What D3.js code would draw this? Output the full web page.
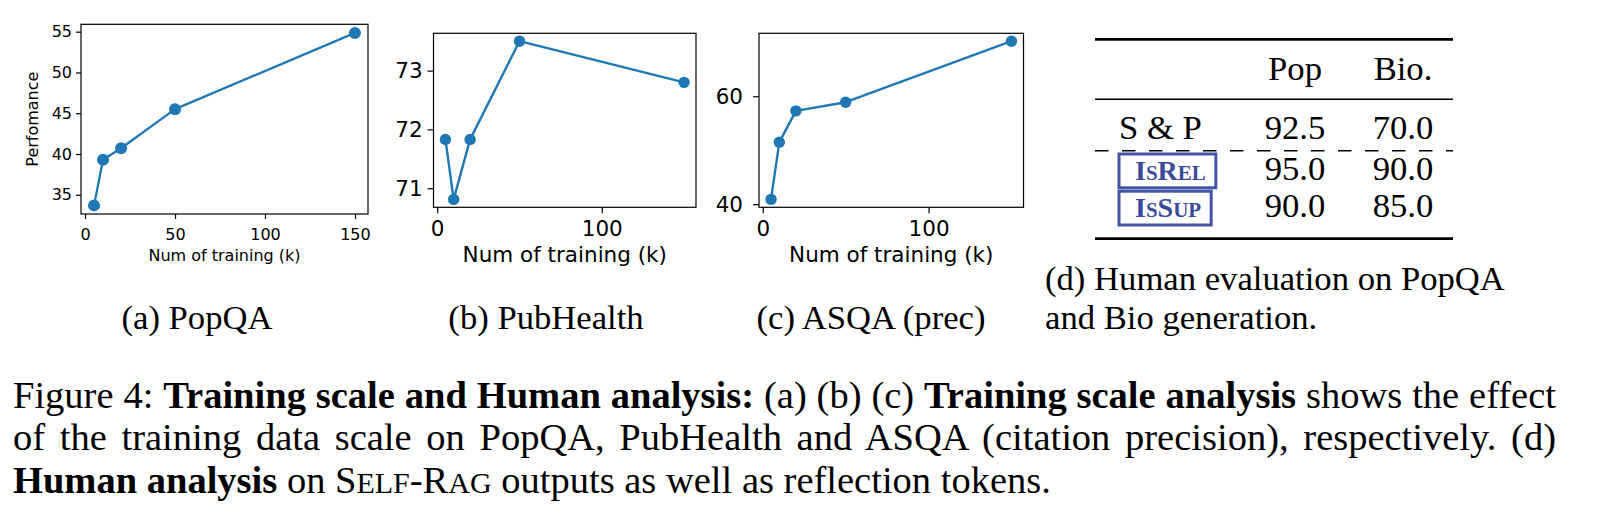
<!DOCTYPE html>
<html>
<head>
<meta charset="utf-8">
<script src="https://cdn.jsdelivr.net/npm/d3@7"></script>
<style>
  body { margin: 0; background: #fff; }
  svg { display: block; }
</style>
</head>
<body>
<svg id="fig"></svg>
<script>
// values
const trainK = [5, 10, 20, 50, 150];
const popqaPerf = [33.7, 39.3, 40.7, 45.5, 54.85];
const pubhealthPerf = [71.83, 70.81, 71.83, 73.5, 72.8];
const asqaPrec = [40.9, 51.5, 57.3, 58.9, 70.2];

const popqaXTicks = [0, 50, 100, 150];
const wideXTicks = [0, 100];
const popqaYTicks = [35, 40, 45, 50, 55];
const pubhealthYTicks = [71, 72, 73];
const asqaYTicks = [40, 60];

const xLabel = "Num of training (k)";
const yLabel = "Perfomance";
const subCaptions = ["(a) PopQA", "(b) PubHealth", "(c) ASQA (prec)"];

// human evaluation table
const tableHeader = ["Pop", "Bio."];
const tableRows = ["S & P", "IsRel", "IsSup"];
const popScores = ["92.5", "95.0", "90.0"];
const bioScores = ["70.0", "90.0", "85.0"];
const tableCaption = ["(d) Human evaluation on PopQA", "and Bio generation."];

// figure caption, segments: r = regular, b = bold, sc = small caps word
const figureCaption = [
  [["Figure 4: ", "r"], ["Training scale and Human analysis:", "b"], [" (a) (b) (c) ", "r"],
   ["Training scale analysis", "b"], [" shows the effect", "r"]],
  [["of the training data scale on PopQA, PubHealth and ASQA (citation precision), respectively. (d)", "r"]],
  [["Human analysis", "b"], [" on ", "r"], ["Self-Rag", "sc"], [" outputs as well as reflection tokens.", "r"]]
];

const W = 1602, H = 530;
const sans = "DejaVu Sans";
const serif = "Liberation Serif";
const blue = "#1f77b4";

const svg = d3.select("#fig").attr("width", W).attr("height", H);
svg.append("rect").attr("width", W).attr("height", H).attr("fill", "#fff");

function padded(arr) {
  const [a, b] = d3.extent(arr);
  const m = (b - a) * 0.05;
  return [a - m, b + m];
}

function panel(values, frame, opt) {
  const x = d3.scaleLinear().domain(padded(trainK)).range([frame.left, frame.right]);
  const y = d3.scaleLinear().domain(padded(values)).range([frame.bottom, frame.top]);
  const g = svg.append("g");

  const xAxis = g.append("g")
    .attr("transform", `translate(0,${frame.bottom})`)
    .call(d3.axisBottom(x).tickValues(opt.xTicks).tickSize(opt.tick)
      .tickPadding(opt.xPad).tickFormat(d3.format("d")));
  const yAxis = g.append("g")
    .attr("transform", `translate(${frame.left},0)`)
    .call(d3.axisLeft(y).tickValues(opt.yTicks).tickSize(opt.tick)
      .tickPadding(opt.yPad).tickFormat(d3.format("d")));

  [xAxis, yAxis].forEach((a) => {
    a.attr("font-size", opt.font).attr("font-family", sans);
    a.select(".domain").remove();
    a.selectAll("line").attr("stroke", "#000").attr("stroke-width", 1.2);
    a.selectAll("text").attr("fill", "#000");
  });

  g.append("rect")
    .attr("x", frame.left).attr("y", frame.top)
    .attr("width", frame.right - frame.left).attr("height", frame.bottom - frame.top)
    .attr("fill", "none").attr("stroke", "#000").attr("stroke-width", 1.2);

  const pts = trainK.map((k, i) => [k, values[i]]);
  g.append("path")
    .datum(pts)
    .attr("fill", "none")
    .attr("stroke", blue)
    .attr("stroke-width", opt.lw)
    .attr("stroke-linejoin", "round")
    .attr("d", d3.line().x((d) => x(d[0])).y((d) => y(d[1])));

  g.selectAll("circle.pt")
    .data(pts)
    .join("circle")
    .attr("class", "pt")
    .attr("cx", (d) => x(d[0]))
    .attr("cy", (d) => y(d[1]))
    .attr("r", opt.r)
    .attr("fill", blue);

  g.append("text")
    .attr("x", (frame.left + frame.right) / 2)
    .attr("y", opt.xLabelY)
    .attr("text-anchor", "middle")
    .attr("font-family", sans)
    .attr("font-size", opt.font)
    .text(xLabel);

  if (opt.yLabelX) {
    g.append("text")
      .attr("transform", `translate(${opt.yLabelX},${(frame.top + frame.bottom) / 2}) rotate(-90)`)
      .attr("text-anchor", "middle")
      .attr("font-family", sans)
      .attr("font-size", opt.font)
      .text(yLabel);
  }
}

panel(popqaPerf, { left: 81, right: 368, top: 24.3, bottom: 214 },
  { xTicks: popqaXTicks, yTicks: popqaYTicks, font: 16, tick: 5, xPad: 10, yPad: 4,
    lw: 2.3, r: 6, xLabelY: 261, yLabelX: 38 });
panel(pubhealthPerf, { left: 433.5, right: 696, top: 33.3, bottom: 207.3 },
  { xTicks: wideXTicks, yTicks: pubhealthYTicks, font: 21.5, tick: 6, xPad: 7, yPad: 4.8,
    lw: 2.4, r: 5.7, xLabelY: 262 });
panel(asqaPrec, { left: 759, right: 1023.5, top: 33.3, bottom: 207.3 },
  { xTicks: wideXTicks, yTicks: asqaYTicks, font: 21.5, tick: 6, xPad: 7, yPad: 10,
    lw: 2.4, r: 5.7, xLabelY: 262 });

// small caps: capitals at full size, lower case letters as reduced capitals
function smallCaps(textSel, word, size, ratio) {
  const runs = [];
  for (const ch of word) {
    const small = ch !== ch.toUpperCase();
    const last = runs[runs.length - 1];
    if (last && last.small === small) last.t += ch;
    else runs.push({ t: ch, small });
  }
  runs.forEach((r) => {
    textSel.append("tspan")
      .attr("font-size", r.small ? size * ratio : size)
      .text(r.small ? r.t.toUpperCase() : r.t);
  });
}

// subcaptions under the panels
const subSize = 34.65;
const subCenters = [197, 546, 871];
svg.selectAll("text.sub")
  .data(subCaptions)
  .join("text")
  .attr("class", "sub")
  .attr("x", (d, i) => subCenters[i])
  .attr("y", 329)
  .attr("text-anchor", "middle")
  .attr("font-family", serif)
  .attr("font-size", subSize)
  .text((d) => d);

// table (d)
const tbl = svg.append("g").attr("font-family", serif).attr("font-size", subSize);
const tLeft = 1095, tRight = 1453;
const colX = [1295, 1403];
const rowY = [139, 179.5, 216.7];

[[39.3, 2.7], [99.3, 1.6], [238.7, 2.7]].forEach(([yy, sw]) => {
  tbl.append("line").attr("x1", tLeft).attr("x2", tRight).attr("y1", yy).attr("y2", yy)
    .attr("stroke", "#000").attr("stroke-width", sw);
});
tbl.append("line").attr("x1", tLeft).attr("x2", tRight).attr("y1", 150.7).attr("y2", 150.7)
  .attr("stroke", "#000").attr("stroke-width", 1.4).attr("stroke-dasharray", "13.5 13.5");

tableHeader.forEach((h, j) => {
  tbl.append("text").attr("x", colX[j]).attr("y", 80).attr("text-anchor", "middle").text(h);
});

tableRows.forEach((name, i) => {
  if (i === 0) {
    tbl.append("text").attr("x", 1119).attr("y", rowY[i]).text(name);
  } else {
    const t = tbl.append("text")
      .attr("x", 1135).attr("y", rowY[i])
      .attr("font-weight", "bold").attr("fill", "#3b4b9c");
    smallCaps(t, name, 28, 0.75);
    const w = t.node().getComputedTextLength();
    tbl.append("rect")
      .attr("x", 1119).attr("y", rowY[i] - 25.5)
      .attr("width", w + 26).attr("height", 33.8)
      .attr("fill", "none").attr("stroke", "#4154a5").attr("stroke-width", 3);
  }
  tbl.append("text").attr("x", colX[0]).attr("y", rowY[i]).attr("text-anchor", "middle").text(popScores[i]);
  tbl.append("text").attr("x", colX[1]).attr("y", rowY[i]).attr("text-anchor", "middle").text(bioScores[i]);
});

svg.selectAll("text.dcap")
  .data(tableCaption)
  .join("text")
  .attr("class", "dcap")
  .attr("x", 1045)
  .attr("y", (d, i) => 290 + i * 39)
  .attr("font-family", serif)
  .attr("font-size", subSize)
  .text((d) => d);

// figure caption, first two lines justified
const capSize = 38.5;
const capLeft = 13, capRight = 1556;
const capY = [408, 450.3, 492.6];
figureCaption.forEach((segs, li) => {
  const t = svg.append("text")
    .attr("x", capLeft).attr("y", capY[li])
    .attr("font-family", serif).attr("font-size", capSize)
    .style("white-space", "pre");
  segs.forEach(([s, kind]) => {
    if (kind === "sc") {
      smallCaps(t, s, capSize, 0.78);
    } else {
      t.append("tspan").attr("font-weight", kind === "b" ? "bold" : null).text(s);
    }
  });
  if (li < 2) {
    const natural = t.node().getComputedTextLength();
    const spaces = segs.map((d) => d[0]).join("").split(" ").length - 1;
    t.style("word-spacing", Math.max(0, (capRight - capLeft - natural) / spaces) + "px");
  }
});
</script>
</body>
</html>
